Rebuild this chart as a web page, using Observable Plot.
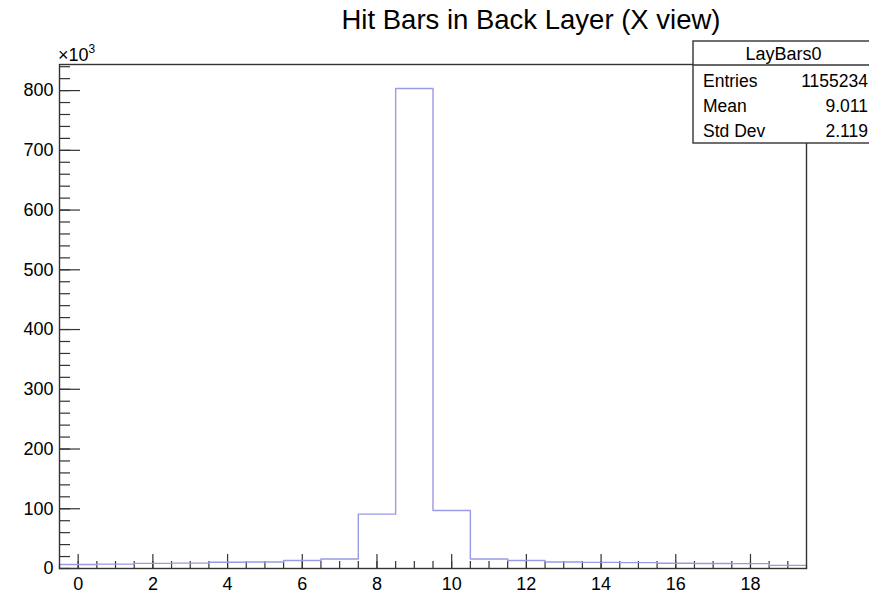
<!DOCTYPE html>
<html>
<head>
<meta charset="utf-8">
<script src="https://cdn.jsdelivr.net/npm/d3@7"></script>
<script src="https://cdn.jsdelivr.net/npm/@observablehq/plot@0.6"></script>
<style>
  body { margin: 0; background: #fff; }
  #chart { position: relative; width: 869px; height: 595px; }
</style>
</head>
<body>
<div id="chart"></div>
<script>
// Hit bars per event, back layer, X view: one bin per bar index
const bins   = [0, 1, 2, 3, 4, 5, 6, 7, 8, 9, 10, 11, 12, 13, 14, 15, 16, 17, 18, 19];
const counts = [6800, 7300, 8600, 9000, 10500, 11000, 13500, 16000, 91000, 803500,
                97000, 16000, 13300, 10800, 10300, 9800, 8700, 8300, 8200, 5300];

// Statistics box
const statsTitle  = "LayBars0";
const statsLabels = ["Entries", "Mean", "Std Dev"];
const statsValues = ["1155234", "9.011", "2.119"];

const title = "Hit Bars in Back Layer (X view)";

// Axis ticks
const xMajor = [0, 2, 4, 6, 8, 10, 12, 14, 16, 18];
const xMinor = d3.range(0, 19.01, 0.5);
const yMajor = [0, 100000, 200000, 300000, 400000, 500000, 600000, 700000, 800000];
const yMinor = d3.range(0, 840001, 20000);

const W = 869, H = 595;
const margin = {left: 59, right: 63, top: 64, bottom: 27};
const innerW = W - margin.left - margin.right;
const innerH = H - margin.top - margin.bottom;

// Step outline of the histogram: left edge of every bin, closed at both ends
const steps = [{x: bins[0] - 0.5, y: 0}]
  .concat(bins.map((b, i) => ({x: b - 0.5, y: counts[i]})))
  .concat([{x: bins[bins.length - 1] + 0.5, y: counts[counts.length - 1]},
           {x: bins[bins.length - 1] + 0.5, y: 0}]);

const axisColor = "#333";
const font = "'Liberation Sans', Arial, Helvetica, sans-serif";

const plot = Plot.plot({
  width: W,
  height: H,
  marginLeft: margin.left,
  marginRight: margin.right,
  marginTop: margin.top,
  marginBottom: margin.bottom,
  style: {fontFamily: font, fontSize: "18px", color: "#000", background: "#fff"},
  x: {domain: [bins[0] - 0.5, bins[bins.length - 1] + 0.5]},
  y: {domain: [0, 1.05 * d3.max(counts)]},
  marks: [
    Plot.ruleY(yMinor, {stroke: axisColor, strokeWidth: 1.2, insetRight: innerW - 11}),
    Plot.ruleY(yMajor, {stroke: axisColor, strokeWidth: 1.2, insetRight: innerW - 21}),
    Plot.ruleX(xMinor, {stroke: axisColor, strokeWidth: 1.2, insetTop: innerH - 7}),
    Plot.ruleX(xMajor, {stroke: axisColor, strokeWidth: 1.2, insetTop: innerH - 14}),
    Plot.line(steps, {x: "x", y: "y", curve: "step-after", stroke: "#9a9ae6", strokeWidth: 1.4}),
    Plot.frame({stroke: axisColor, strokeWidth: 1.4}),
    Plot.axisX(xMajor, {tickSize: 0, tickPadding: 9, label: null, fontSize: 18}),
    Plot.axisY(yMajor, {tickSize: 0, tickPadding: 6, label: null, fontSize: 18,
                        tickFormat: d => String(d / 1000)})
  ]
});

document.getElementById("chart").appendChild(plot);

const svg = d3.select(plot);

// Exponent label above the y axis
const expo = svg.append("text")
  .attr("x", margin.left - 1)
  .attr("y", 61)
  .attr("text-anchor", "start")
  .attr("font-family", font)
  .attr("font-size", 18)
  .attr("fill", "#000");
expo.append("tspan").text("\u00d710");
expo.append("tspan").attr("font-size", 12).attr("dy", -8).text("3");

// Title
svg.append("text")
  .attr("x", 531)
  .attr("y", 29)
  .attr("text-anchor", "middle")
  .attr("font-family", font)
  .attr("font-size", 27.5)
  .attr("fill", "#000")
  .text(title);

// Statistics box
const box = svg.append("g");
box.append("rect")
  .attr("x", 693).attr("y", 41)
  .attr("width", 181).attr("height", 102)
  .attr("fill", "#fff")
  .attr("stroke", axisColor).attr("stroke-width", 1.4);
box.append("line")
  .attr("x1", 693).attr("x2", 874)
  .attr("y1", 65).attr("y2", 65)
  .attr("stroke", axisColor).attr("stroke-width", 1.4);
box.append("text")
  .attr("x", 783.5).attr("y", 60)
  .attr("text-anchor", "middle")
  .attr("font-family", font).attr("font-size", 18)
  .text(statsTitle);
statsLabels.forEach((lab, i) => {
  const yb = 87 + i * 25;
  box.append("text")
    .attr("x", 703).attr("y", yb)
    .attr("text-anchor", "start")
    .attr("font-family", font).attr("font-size", 17.5)
    .text(lab);
  box.append("text")
    .attr("x", 868).attr("y", yb)
    .attr("text-anchor", "end")
    .attr("font-family", font).attr("font-size", 17.5)
    .text(statsValues[i]);
});
</script>
</body>
</html>
